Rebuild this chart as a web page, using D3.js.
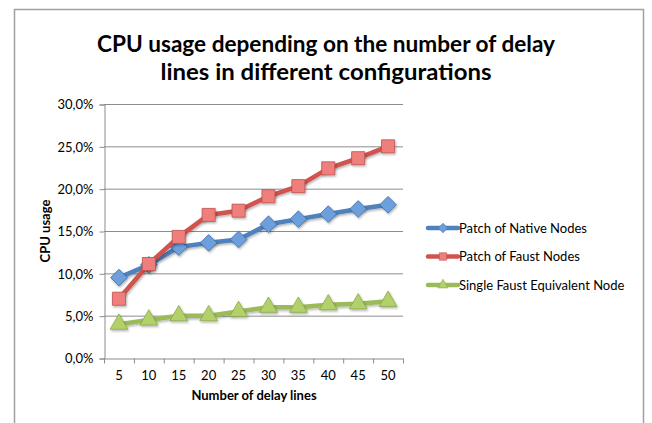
<!DOCTYPE html>
<html>
<head>
<meta charset="utf-8">
<script src="https://cdn.jsdelivr.net/npm/d3@7"></script>
<style>
  body { margin: 0; background: #fff; }
  text { font-family: Lato, "Open Sans", sans-serif; fill: #000; }
</style>
</head>
<body>
<div id="chart"></div>
<script>
const delayLines = [5, 10, 15, 20, 25, 30, 35, 40, 45, 50];
const nativeNodes = [9.5, 11.0, 13.1, 13.6, 14.0, 15.8, 16.4, 17.0, 17.6, 18.1];
const faustNodes = [7.0, 11.1, 14.3, 16.9, 17.4, 19.1, 20.3, 22.4, 23.6, 25.0];
const singleFaust = [4.0, 4.5, 5.0, 5.0, 5.5, 6.0, 6.0, 6.3, 6.4, 6.7];
const yTicks = [0, 5, 10, 15, 20, 25, 30];

const series = [
  { name: 'Patch of Native Nodes', values: nativeNodes, line: '#4f81bd', fill: '#6c9fdb', stroke: '#3f6fa8', shape: 'diamond' },
  { name: 'Patch of Faust Nodes', values: faustNodes, line: '#d0534f', fill: '#ef7f7b', stroke: '#c0504d', shape: 'square' },
  { name: 'Single Faust Equivalent Node', values: singleFaust, line: '#9bbb59', fill: '#b2d16b', stroke: '#8aaa4a', shape: 'triangle' }
];

const W = 652, H = 423;
const plot = { left: 104, right: 403, top: 104, bottom: 358 };

const svg = d3.select('#chart').append('svg')
  .attr('width', W)
  .attr('height', H);

const defs = svg.append('defs');
const shadow = defs.append('filter').attr('id', 'shadow')
  .attr('x', '-50%').attr('y', '-50%').attr('width', '200%').attr('height', '200%');
shadow.append('feDropShadow')
  .attr('dx', 1).attr('dy', 1.5).attr('stdDeviation', 1)
  .attr('flood-color', '#000').attr('flood-opacity', 0.3);

// chart frame
svg.append('rect')
  .attr('x', 14.5).attr('y', 9.5)
  .attr('width', 629).attr('height', 430)
  .attr('fill', 'none')
  .attr('stroke', '#a0a0a0')
  .attr('stroke-width', 1.5);

// title
const title = svg.append('text')
  .attr('text-anchor', 'middle')
  .style('font-size', '22px')
  .style('font-weight', 'bold');
title.append('tspan').attr('x', 326).attr('y', 52).text('CPU usage depending on the number of delay');
title.append('tspan').attr('x', 326).attr('y', 80).text('lines in different configurations');

const xScale = d3.scaleBand()
  .domain(delayLines)
  .range([plot.left, plot.right]);

const yScale = d3.scaleLinear()
  .domain([0, 30])
  .range([plot.bottom, plot.top]);

const fmt = v => v.toFixed(1).replace('.', ',') + '%';

// gridlines
svg.append('g')
  .selectAll('line')
  .data(yTicks.slice(1))
  .join('line')
  .attr('x1', plot.left).attr('x2', plot.right)
  .attr('y1', d => yScale(d) + 0.5).attr('y2', d => yScale(d) + 0.5)
  .attr('stroke', '#8c8c8c')
  .attr('stroke-width', 1);

// y axis
const yAxisG = svg.append('g')
  .attr('transform', `translate(${plot.left + 0.5},0.5)`)
  .call(d3.axisLeft(yScale).tickValues(yTicks).tickFormat(fmt).tickSize(5).tickPadding(6));
yAxisG.select('.domain').attr('stroke', '#8c8c8c');
yAxisG.selectAll('.tick line').attr('stroke', '#8c8c8c');
yAxisG.selectAll('.tick text')
  .style('font-size', '13px')
  .style('font-family', 'Lato, sans-serif')
  .attr('fill', '#000');

// x axis
const xAxisG = svg.append('g')
  .attr('transform', `translate(0,${plot.bottom + 0.5})`)
  .call(d3.axisBottom(xScale).tickSize(0).tickPadding(12));
xAxisG.select('.domain').attr('stroke', '#8c8c8c');
xAxisG.selectAll('.tick text')
  .style('font-size', '13px')
  .style('font-family', 'Lato, sans-serif')
  .attr('fill', '#000');
// category boundary ticks
xAxisG.append('g')
  .selectAll('line')
  .data(delayLines.concat(['end']))
  .join('line')
  .attr('x1', (d, i) => plot.left + i * xScale.step() + 0.5)
  .attr('x2', (d, i) => plot.left + i * xScale.step() + 0.5)
  .attr('y1', 0).attr('y2', 5)
  .attr('stroke', '#8c8c8c');

// axis titles
svg.append('text')
  .attr('x', 254).attr('y', 400)
  .attr('text-anchor', 'middle')
  .style('font-size', '13px')
  .style('font-weight', 'bold')
  .text('Number of delay lines');

svg.append('text')
  .attr('transform', 'translate(50,231) rotate(-90)')
  .attr('text-anchor', 'middle')
  .style('font-size', '13px')
  .style('font-weight', 'bold')
  .text('CPU usage');

const cx = d => xScale(d) + xScale.bandwidth() / 2;

function marker(sel, shape, size) {
  if (shape === 'diamond') {
    sel.attr('d', d3.symbol().type(d3.symbolDiamond2).size(size * 1.05));
  } else if (shape === 'square') {
    sel.attr('d', d3.symbol().type(d3.symbolSquare).size(size));
  } else {
    sel.attr('d', d3.symbol().type(d3.symbolTriangle).size(size * 0.8));
  }
}

const line = d3.line()
  .x((d, i) => cx(delayLines[i]))
  .y(d => yScale(d));

series.forEach(s => {
  const g = svg.append('g');
  g.append('path')
    .datum(s.values)
    .attr('d', line)
    .attr('fill', 'none')
    .attr('stroke', s.line)
    .attr('stroke-width', 4.5)
    .attr('stroke-linejoin', 'round')
    .attr('filter', 'url(#shadow)');
  g.selectAll('path.marker')
    .data(s.values)
    .join('path')
    .attr('class', 'marker')
    .attr('transform', (d, i) => `translate(${cx(delayLines[i])},${yScale(d)})`)
    .call(marker, s.shape, 170)
    .attr('fill', s.fill)
    .attr('stroke', s.stroke)
    .attr('stroke-width', 0.8)
    .attr('filter', 'url(#shadow)');
});

// legend
const legend = svg.append('g');
const legendRows = legend.selectAll('g')
  .data(series)
  .join('g')
  .attr('transform', (d, i) => `translate(428,${228 + i * 28.5})`);
legendRows.append('line')
  .attr('x1', 0).attr('x2', 30)
  .attr('stroke', d => d.line)
  .attr('stroke-width', 4.5)
  .attr('stroke-linecap', 'round');
legendRows.append('path')
  .attr('transform', 'translate(15,0)')
  .each(function (d) { d3.select(this).call(marker, d.shape, 55); })
  .attr('fill', d => d.fill)
  .attr('stroke', d => d.stroke)
  .attr('stroke-width', 0.6);
legendRows.append('text')
  .attr('x', 31).attr('y', 4.5)
  .style('font-size', '13px')
  .text(d => d.name);

// fit the title width to the reference
title.selectAll('tspan').each(function (d, i) {
  const target = i === 0 ? 458 : 331;
  const w = this.getComputedTextLength();
  if (w > 0) d3.select(this).attr('textLength', target).attr('lengthAdjust', 'spacingAndGlyphs');
});
</script>
</body>
</html>
